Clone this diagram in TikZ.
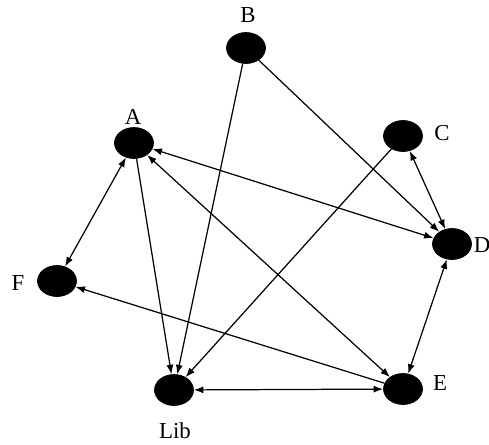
\documentclass[tikz,border=0pt]{standalone}
\usepackage{fontspec}
\setmainfont{Liberation Serif}
\usetikzlibrary{shapes.geometric,arrows.meta}

\begin{document}
\begin{tikzpicture}[
  vert/.style={ellipse,fill=black,draw=black,minimum width=0.78cm,minimum height=0.62cm,inner sep=0pt},
  lbl/.style={font=\fontsize{13}{15}\selectfont,text=black},
  edge/.style={black,line width=0.7pt,-{Latex[length=1.9mm,width=1.4mm]}},
  both/.style={black,line width=0.7pt,{Latex[length=1.9mm,width=1.4mm]}-{Latex[length=1.9mm,width=1.4mm]}}]
  \useasboundingbox (0,0) rectangle (9.78,-8.88);

  % --- Sommets ---
  \node[vert] (B) at (4.92,-0.96) {};
  \node[vert] (A) at (2.68,-2.86) {};
  \node[vert] (C) at (8.06,-2.72) {};
  \node[vert] (D) at (9.04,-4.88) {};
  \node[vert] (F) at (1.14,-5.62) {};
  \node[vert] (Lib) at (3.48,-7.80) {};
  \node[vert] (E) at (8.06,-7.78) {};

  % --- Etiquettes ---
  \node[lbl] (lB) at (4.96,-0.30) {B};
  \node[lbl] (lA) at (2.66,-2.34) {A};
  \node[lbl] (lC) at (8.84,-2.66) {C};
  \node[lbl] (lD) at (9.64,-4.90) {D};
  \node[lbl] (lF) at (0.36,-5.66) {F};
  \node[lbl] (lLib) at (3.50,-8.62) {Lib};
  \node[lbl] (lE) at (8.80,-7.66) {E};

  % --- Arcs ---
  \draw[edge] (B) -- (Lib);
  \draw[edge] (B) -- (D);
  \draw[edge] (A) -- (Lib);
  \draw[edge] (C) -- (Lib);
  \draw[edge] (E) -- (F);
  \draw[both] (A) -- (F);
  \draw[both] (A) -- (D);
  \draw[both] (A) -- (E);
  \draw[both] (C) -- (D);
  \draw[both] (D) -- (E);
  \draw[both] (Lib) -- (E);
\end{tikzpicture}
\end{document}
